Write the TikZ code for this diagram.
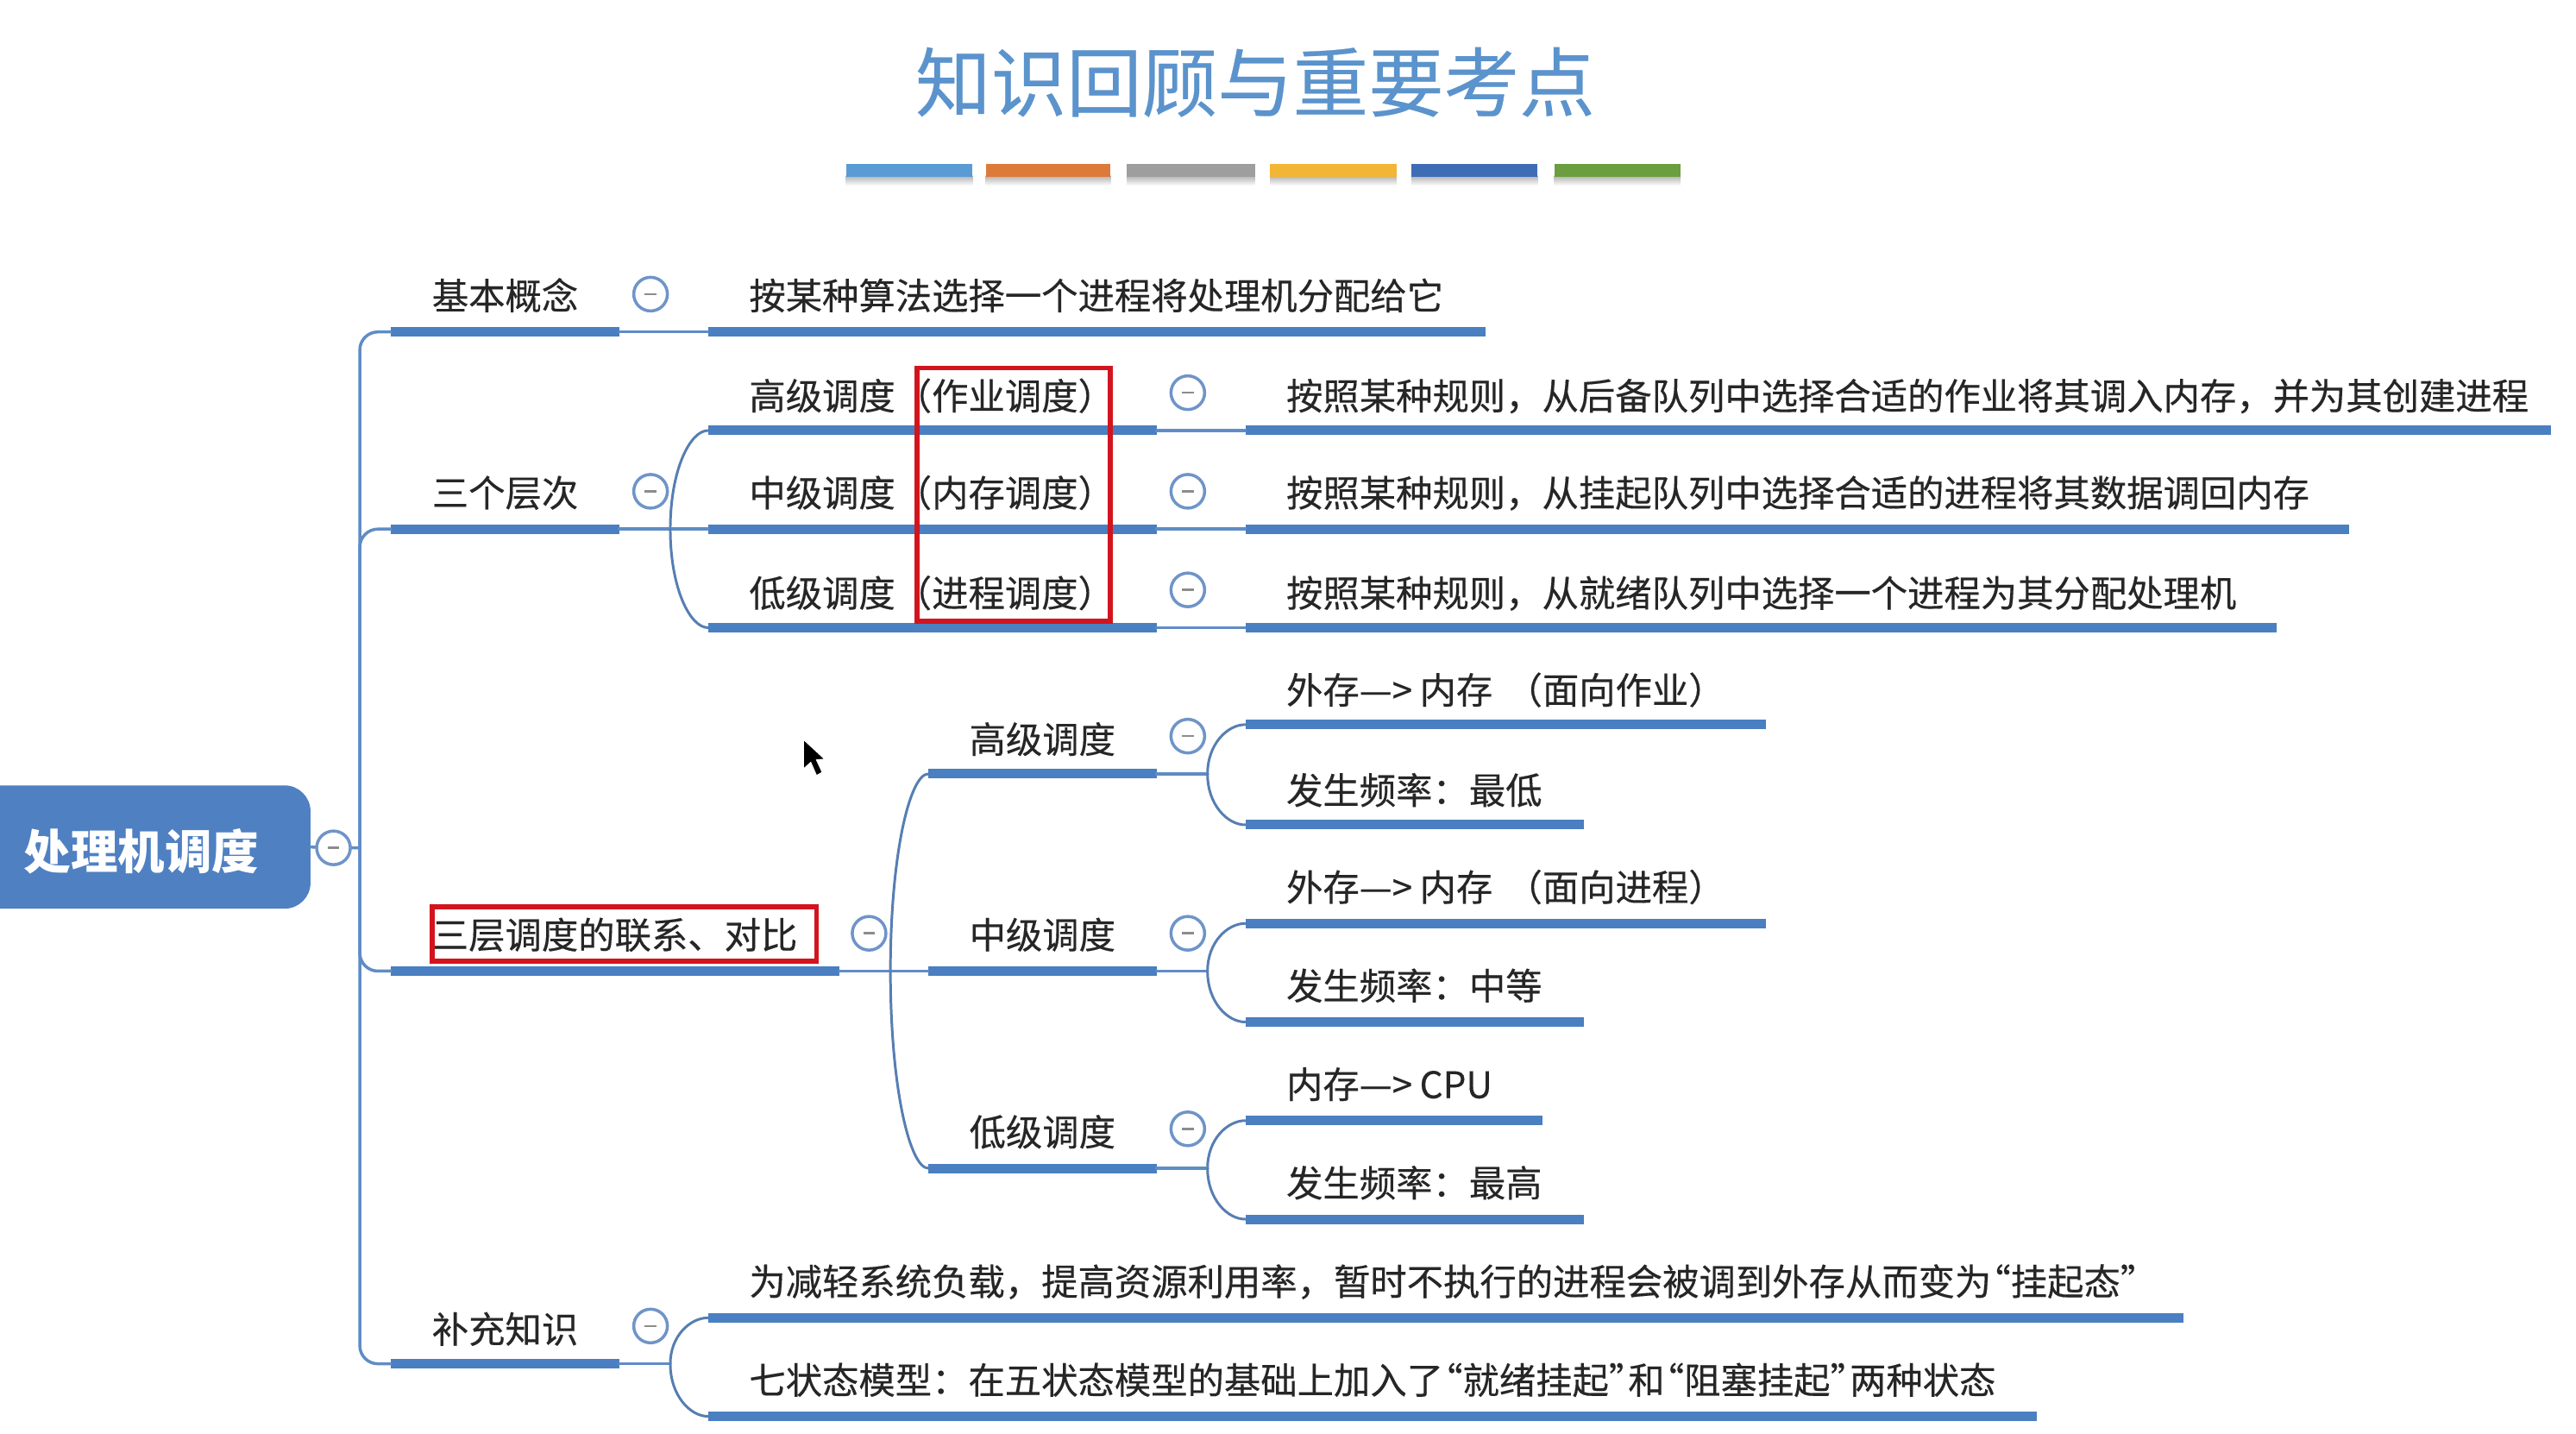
\documentclass[tikz,border=0pt]{standalone}
\usepackage{fontspec}
\setmainfont{Noto Sans CJK SC}
\usetikzlibrary{calc}
\definecolor{barblue}{HTML}{4A7FC1}
\definecolor{linkblue}{HTML}{5F8CC6}
\definecolor{rootblue}{HTML}{4F80C2}
\definecolor{iconblue}{HTML}{6F94C8}
\definecolor{titleblue}{HTML}{5B93CC}
\definecolor{markred}{HTML}{D2141E}
\newcommand{\mmlq}{\kern-.47em“}
\newcommand{\mmrq}{”\kern-.47em}
\tikzset{
  barnode/.style={rectangle,fill=barblue,draw=none,inner sep=0pt,outer sep=0pt,minimum height=0.22cm},
  label/.style={anchor=west,inner sep=0pt,outer sep=0pt,text=black!85,text height=21pt,text depth=3pt,font=\fontsize{24.1}{28}\selectfont\addfontfeatures{FakeBold=0.3}},
  conn/.style={draw=linkblue,line width=2pt,line cap=round},
  curveconn/.style={draw=linkblue!90!black,line width=1.7pt,line cap=round},
  minusicon/.style={circle,draw=iconblue,line width=2pt,fill=white,minimum size=0.78cm,inner sep=0pt,
    path picture={\draw[black!45,line width=1.4pt] ($(path picture bounding box.center)+(-3.5,0)$) -- ($(path picture bounding box.center)+(3.5,0)$);}},
  redbox/.style={rectangle,draw=markred,line width=3.2pt,inner sep=0pt,fill=none}
}
\newcommand{\mmtopic}[6]{% name, x0, x1, ybar, ytext, text
  \pgfmathsetmacro{\mmw}{(#3-#2)*0.03809}
  \node[barnode,minimum width=\mmw cm] (#1) at ({(#2+#3)/2},#4) {};
  \node[label] (#1-t) at (#2+25,#5) {#6};
}
% parent bar -> junction -> child bar
\newcommand{\mmcurve}[3]{%
  \coordinate (mmj) at ($(#1.east)+(#3,0)$);
  \draw[conn] (#1.east) -- (mmj);
  \draw[curveconn] (mmj) .. controls ($(mmj)!0.6!(mmj |- #2.west)$) and ($(#2.west)+(-11,0)$) .. (#2.west);
}
\newcommand{\mmicon}[3]{\node[minusicon] (#1) at (#2,#3) {};}
\begin{document}
\begin{tikzpicture}[x=0.03809cm,y=-0.03809cm]
\useasboundingbox (0,0) rectangle (1568,872.7);
\fill[white] (0,0) rectangle (1568,872.7);

% title and colour strip
\node[inner sep=0pt,text=titleblue,font=\fontsize{49.8}{56}\selectfont\addfontfeatures{FakeBold=0.3}] (title) at (764,50) {知识回顾与重要考点};
\foreach \a/\b/\c in {515/592/5B9BD5,600/676/DD7A3A,686/764/9E9E9E,773/850/F2B535,859/936/3F6DB5,946/1023/6B9E3F}{
  \definecolor{stripc}{HTML}{\c}
  \shade[top color=black!30,bottom color=white] (\a,107) rectangle (\b,113);
  \fill[stripc] (\a,100) rectangle (\b,107.5);
}

% root
\fill[rootblue] (0,478) [rounded corners=0.6cm] -- (189,478) -- (189,553) [sharp corners] -- (0,553) -- cycle;
\node[rectangle,draw=none,inner sep=0pt,outer sep=0pt,minimum width=7.2cm,minimum height=2.857cm] (root) at (94.5,515.5) {};
\node[inner sep=0pt,text=white,font=\fontsize{31}{36}\selectfont\bfseries] (root-t) at (86,518) {处理机调度};

% level 1
\mmtopic{jb}{238}{377}{202}{180}{基本概念}
\mmtopic{sg}{238}{377}{322}{300}{三个层次}
\mmtopic{sc}{238}{511}{591}{569}{三层调度的联系、对比}
\mmtopic{bc}{238}{377}{830}{809}{补充知识}

% level 2
\mmtopic{jbd}{431}{904}{202}{180}{按某种算法选择一个进程将处理机分配给它}
\mmtopic{g1}{431}{704}{262}{241}{高级调度（作业调度）}
\mmtopic{z1}{431}{704}{322}{300}{中级调度（内存调度）}
\mmtopic{d1}{431}{704}{382}{361}{低级调度（进程调度）}
\mmtopic{g1d}{758}{1553}{262}{241}{按照某种规则，从后备队列中选择合适的作业将其调入内存，并为其创建进程}
\mmtopic{z1d}{758}{1430}{322}{300}{按照某种规则，从挂起队列中选择合适的进程将其数据调回内存}
\mmtopic{d1d}{758}{1386}{382}{361}{按照某种规则，从就绪队列中选择一个进程为其分配处理机}

\mmtopic{g2}{565}{704}{471}{450}{高级调度}
\mmtopic{z2}{565}{704}{591}{569}{中级调度}
\mmtopic{d2}{565}{704}{711}{689}{低级调度}
\mmtopic{g2a}{758}{1075}{441}{420}{外存—>\kern.2em内存\kern.36em（面向作业）}
\mmtopic{g2b}{758}{964}{502}{481}{发生频率：最低}
\mmtopic{z2a}{758}{1075}{562}{540}{外存—>\kern.2em内存\kern.36em（面向进程）}
\mmtopic{z2b}{758}{964}{622}{600}{发生频率：中等}
\mmtopic{d2a}{758}{939}{682}{660}{内存—>\kern.2em CPU}
\mmtopic{d2b}{758}{964}{742}{720}{发生频率：最高}

\mmtopic{bc1}{431}{1329}{802}{780}{为减轻系统负载，提高资源利用率，暂时不执行的进程会被调到外存从而变为\mmlq 挂起态\mmrq}
\mmtopic{bc2}{431}{1240}{862}{840}{七状态模型：在五状态模型的基础上加入了\mmlq 就绪挂起\mmrq 和\mmlq 阻塞挂起\mmrq 两种状态}

% trunk from root
\coordinate (trunk) at (219,516);
\draw[conn] (root.east) -- (trunk);
\foreach \c in {jb,sg,sc,bc}{
  \draw[conn,rounded corners=0.42cm] (trunk) |- (\c.west);
}

% branches
\draw[conn] (jb.east) -- (jbd.west);
\mmcurve{sg}{g1}{31}
\draw[conn] (sg.east) -- (z1.west);
\mmcurve{sg}{d1}{31}
\draw[conn] (g1.east) -- (g1d.west);
\draw[conn] (z1.east) -- (z1d.west);
\draw[conn] (d1.east) -- (d1d.west);
\mmcurve{sc}{g2}{31}
\draw[conn] (sc.east) -- (z2.west);
\mmcurve{sc}{d2}{31}
\mmcurve{g2}{g2a}{31}
\mmcurve{g2}{g2b}{31}
\mmcurve{z2}{z2a}{31}
\mmcurve{z2}{z2b}{31}
\mmcurve{d2}{d2a}{31}
\mmcurve{d2}{d2b}{31}
\mmcurve{bc}{bc1}{31}
\mmcurve{bc}{bc2}{31}

% collapse icons
\mmicon{i0}{203}{516}
\mmicon{i1}{396}{179}
\mmicon{i2}{396}{299}
\mmicon{i3}{723}{239}
\mmicon{i4}{723}{299}
\mmicon{i5}{723}{359}
\mmicon{i6}{529}{568}
\mmicon{i7}{723}{448}
\mmicon{i8}{723}{568}
\mmicon{i9}{723}{687}
\mmicon{i10}{396}{807}

% red marks
\node[redbox,minimum width=4.49cm,minimum height=5.87cm] (mark1) at (617,301) {};
\node[redbox,minimum width=8.91cm,minimum height=1.26cm] (mark2) at (380,568.5) {};

% mouse pointer
\filldraw[fill=black,draw=white,line width=0.6pt] (489,450) -- (489,468) -- (493.5,464) -- (497,472) -- (500.5,470) -- (497,462.5) -- (502,462) -- cycle;
\end{tikzpicture}
\end{document}
